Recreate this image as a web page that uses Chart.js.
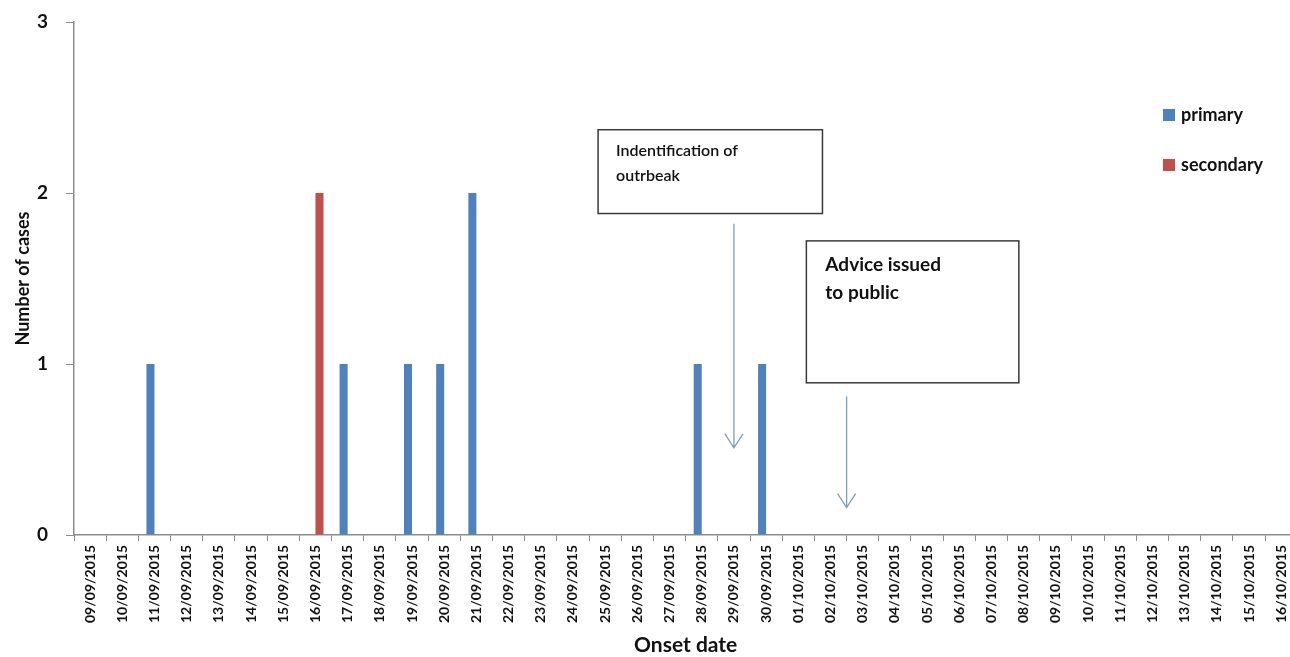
<!DOCTYPE html>
<html>
<head>
<meta charset="utf-8">
<script src="https://cdn.jsdelivr.net/npm/chart.js@4.4.0/dist/chart.umd.min.js"></script>
<style>
    html, body { margin: 0; padding: 0; background: #fff; overflow: hidden; }
    #wrap { width: 1302px; height: 657px; position: relative; }
</style>
</head>
<body>
<div id="wrap"><canvas id="epiCurve"></canvas></div>
<script>
// Onset dates (one category per day)
const onsetDates = [
    '09/09/2015', '10/09/2015', '11/09/2015', '12/09/2015', '13/09/2015', '14/09/2015',
    '15/09/2015', '16/09/2015', '17/09/2015', '18/09/2015', '19/09/2015', '20/09/2015',
    '21/09/2015', '22/09/2015', '23/09/2015', '24/09/2015', '25/09/2015', '26/09/2015',
    '27/09/2015', '28/09/2015', '29/09/2015', '30/09/2015', '01/10/2015', '02/10/2015',
    '03/10/2015', '04/10/2015', '05/10/2015', '06/10/2015', '07/10/2015', '08/10/2015',
    '09/10/2015', '10/10/2015', '11/10/2015', '12/10/2015', '13/10/2015', '14/10/2015',
    '15/10/2015', '16/10/2015'
];

// Cases per day
const primaryCases = [
    0, 0, 1, 0, 0, 0, 0, 0, 1, 0, 1, 1, 2, 0, 0, 0, 0, 0, 0,
    1, 0, 1, 0, 0, 0, 0, 0, 0, 0, 0, 0, 0, 0, 0, 0, 0, 0, 0
];
const secondaryCases = [
    0, 0, 0, 0, 0, 0, 0, 2, 0, 0, 0, 0, 0, 0, 0, 0, 0, 0, 0,
    0, 0, 0, 0, 0, 0, 0, 0, 0, 0, 0, 0, 0, 0, 0, 0, 0, 0, 0
];

const yTicks = [0, 1, 2, 3];

const FONT = 'Lato, "Open Sans", sans-serif';
const AXIS_GREY = '#8c8c8c';

// Text boxes with arrows (x in category index units, y in case units)
const notes = [
    { lines: ['Indentification of', 'outrbeak'], size: 16, weight: '600',
      x0: 15.78, x1: 22.75, y0: 2.37, y1: 1.88, padX: 18, firstLine: 26, lineGap: 25,
      arrowX: 20.0, arrowFrom: 1.82, arrowTo: 0.51 },
    { lines: ['Advice issued', 'to public'], size: 19, weight: 'bold',
      x0: 22.25, x1: 28.85, y0: 1.72, y1: 0.89, padX: 19, firstLine: 30, lineGap: 28,
      arrowX: 23.5, arrowFrom: 0.81, arrowTo: 0.16 }
];

// Draws the annotation boxes, arrows and the side legend
const overlayPlugin = {
    id: 'overlay',
    afterDraw(chart) {
        const { ctx, scales: { x, y } } = chart;
        ctx.save();

        notes.forEach(n => {
            const left = x.getPixelForValue(n.x0);
            const right = x.getPixelForValue(n.x1);
            const top = y.getPixelForValue(n.y0);
            const bottom = y.getPixelForValue(n.y1);

            ctx.fillStyle = '#fff';
            ctx.fillRect(left, top, right - left, bottom - top);
            ctx.strokeStyle = '#3a3a3a';
            ctx.lineWidth = 1.5;
            ctx.strokeRect(left, top, right - left, bottom - top);

            ctx.fillStyle = '#111';
            ctx.font = n.weight + ' ' + n.size + 'px ' + FONT;
            ctx.textAlign = 'left';
            ctx.textBaseline = 'alphabetic';
            n.lines.forEach((line, i) => {
                ctx.fillText(line, left + n.padX, top + n.firstLine + i * n.lineGap);
            });

            // arrow
            const ax = x.getPixelForValue(n.arrowX);
            const ay0 = y.getPixelForValue(n.arrowFrom);
            const ay1 = y.getPixelForValue(n.arrowTo);
            ctx.strokeStyle = '#7d9fb8';
            ctx.lineWidth = 1.3;
            ctx.beginPath();
            ctx.moveTo(ax, ay0);
            ctx.lineTo(ax, ay1);
            ctx.moveTo(ax - 9, ay1 - 14);
            ctx.lineTo(ax, ay1);
            ctx.lineTo(ax + 9, ay1 - 14);
            ctx.stroke();
        });

        // legend
        chart.data.datasets.forEach((ds, i) => {
            const ly = 115 + i * 50;
            ctx.fillStyle = ds.backgroundColor;
            ctx.fillRect(1163, ly - 6, 12, 12);
            ctx.fillStyle = '#111';
            ctx.font = 'bold 18px ' + FONT;
            ctx.textAlign = 'left';
            ctx.textBaseline = 'middle';
            ctx.fillText(ds.label, 1181, ly);
        });

        ctx.restore();
    }
};

const config = {
    type: 'bar',
    data: {
        labels: onsetDates,
        datasets: [{
            label: 'primary',
            data: primaryCases,
            backgroundColor: '#4f81bd',
            borderWidth: 0
        }, {
            label: 'secondary',
            data: secondaryCases,
            backgroundColor: '#c0504d',
            borderWidth: 0
        }]
    },
    plugins: [overlayPlugin],
    options: {
        responsive: true,
        maintainAspectRatio: false,
        animation: false,
        layout: {
            padding: { top: 22, right: 0, bottom: 0, left: 0 }
        },
        datasets: {
            bar: {
                categoryPercentage: 0.5,
                barPercentage: 1.0
            }
        },
        plugins: {
            legend: { display: false },
            tooltip: { enabled: false }
        },
        scales: {
            x: {
                grid: {
                    drawOnChartArea: false,
                    drawTicks: true,
                    tickLength: 6,
                    color: AXIS_GREY,
                    offset: true
                },
                border: { color: AXIS_GREY, width: 1.5 },
                ticks: {
                    autoSkip: false,
                    maxRotation: 90,
                    minRotation: 90,
                    padding: 4,
                    color: '#111',
                    font: { family: FONT, size: 14, weight: 'bold' }
                },
                title: {
                    display: true,
                    text: 'Onset date',
                    color: '#111',
                    padding: { top: 0, bottom: -1 },
                    font: { family: FONT, size: 21, weight: 'bold' }
                },
                afterFit(scale) {
                    scale.height = 122;
                }
            },
            y: {
                min: 0,
                max: 3,
                afterBuildTicks(scale) {
                    scale.ticks = yTicks.map(v => ({ value: v }));
                },
                grid: {
                    drawOnChartArea: false,
                    drawTicks: true,
                    tickLength: 8,
                    color: AXIS_GREY
                },
                border: { color: AXIS_GREY, width: 1.5 },
                ticks: {
                    padding: 18,
                    color: '#111',
                    font: { family: FONT, size: 19, weight: 'bold' }
                },
                title: {
                    display: true,
                    text: 'Number of cases',
                    color: '#111',
                    padding: { top: 12, bottom: 0 },
                    font: { family: FONT, size: 18, weight: 'bold' }
                },
                afterFit(scale) {
                    scale.width = 74;
                    // tick padding should not push the chart area down
                    scale.paddingTop = 0;
                    scale.paddingBottom = 0;
                }
            }
        }
    }
};

const epiCurve = new Chart(document.getElementById('epiCurve'), config);
</script>
</body>
</html>
